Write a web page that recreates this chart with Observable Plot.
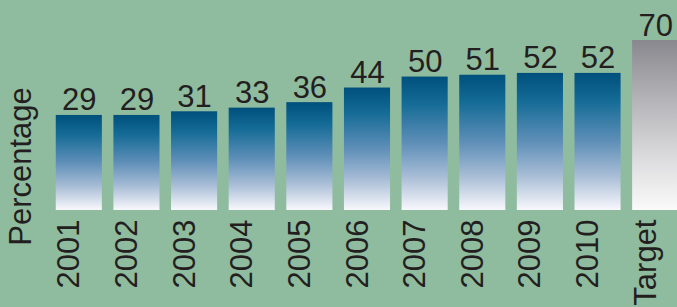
<!DOCTYPE html>
<html>
<head>
<meta charset="utf-8">
<script src="https://cdn.jsdelivr.net/npm/d3@7"></script>
<script src="https://cdn.jsdelivr.net/npm/@observablehq/plot@0.6"></script>
<style>
  html, body { margin: 0; padding: 0; background: #8fbc9f; overflow: hidden; }
</style>
</head>
<body>
<div id="chart"></div>
<script>
const categories = ["2001", "2002", "2003", "2004", "2005", "2006", "2007", "2008", "2009", "2010", "Target"];
const values = [29, 29, 31, 33, 36, 44, 50, 51, 52, 52, 70];
const axisLabel = "Percentage";

const data = categories.map((c, i) => ({category: c, value: values[i]}));
const yBase = -23;
const font = "'Liberation Sans', Arial, Helvetica, sans-serif";

const chart = Plot.plot({
  width: 677,
  height: 307,
  marginTop: 40,
  marginBottom: 97,
  marginLeft: 0,
  marginRight: 0,
  style: {background: "#8fbc9f", fontFamily: font, color: "#231f20"},
  x: {domain: categories, range: [50, 684], paddingInner: 0.2, paddingOuter: 0.1, round: false, axis: null},
  y: {domain: [yBase, 70], axis: null},
  marks: [
    Plot.barY(data.filter(d => d.category !== "Target"), {x: "category", y1: () => yBase, y2: "value", fill: "url(#gBlue)"}),
    Plot.barY(data.filter(d => d.category === "Target"), {x: "category", y1: () => yBase, y2: "value", fill: "url(#gGray)"}),
    Plot.text(data, {x: "category", y: "value", text: d => String(d.value), lineAnchor: "bottom", dy: -5, fontSize: 31, fill: "#231f20"}),
    Plot.text(data, {x: "category", text: "category", frameAnchor: "bottom", rotate: -90, textAnchor: "end", dy: 9, fontSize: 31, fill: "#231f20"}),
    Plot.text([axisLabel], {text: d => d, frameAnchor: "left", textAnchor: "middle", rotate: -90, dx: 21, dy: 41, fontSize: 31, fill: "#231f20"})
  ]
});

const ns = "http://www.w3.org/2000/svg";
const defs = document.createElementNS(ns, "defs");
function grad(id, stops) {
  const g = document.createElementNS(ns, "linearGradient");
  g.setAttribute("id", id);
  g.setAttribute("x1", "0"); g.setAttribute("y1", "0");
  g.setAttribute("x2", "0"); g.setAttribute("y2", "1");
  for (const [o, c] of stops) {
    const s = document.createElementNS(ns, "stop");
    s.setAttribute("offset", o);
    s.setAttribute("stop-color", c);
    g.appendChild(s);
  }
  defs.appendChild(g);
}
grad("gBlue", [[0, "#00507c"], [0.2, "#136b96"], [0.5, "#5f8fb8"], [0.75, "#a8bdd6"], [1, "#f8f8fc"]]);
grad("gGray", [[0, "#88888e"], [0.35, "#b4b4b8"], [0.7, "#dcdcde"], [1, "#fafafa"]]);
chart.insertBefore(defs, chart.firstChild);

document.getElementById("chart").appendChild(chart);
</script>
</body>
</html>
